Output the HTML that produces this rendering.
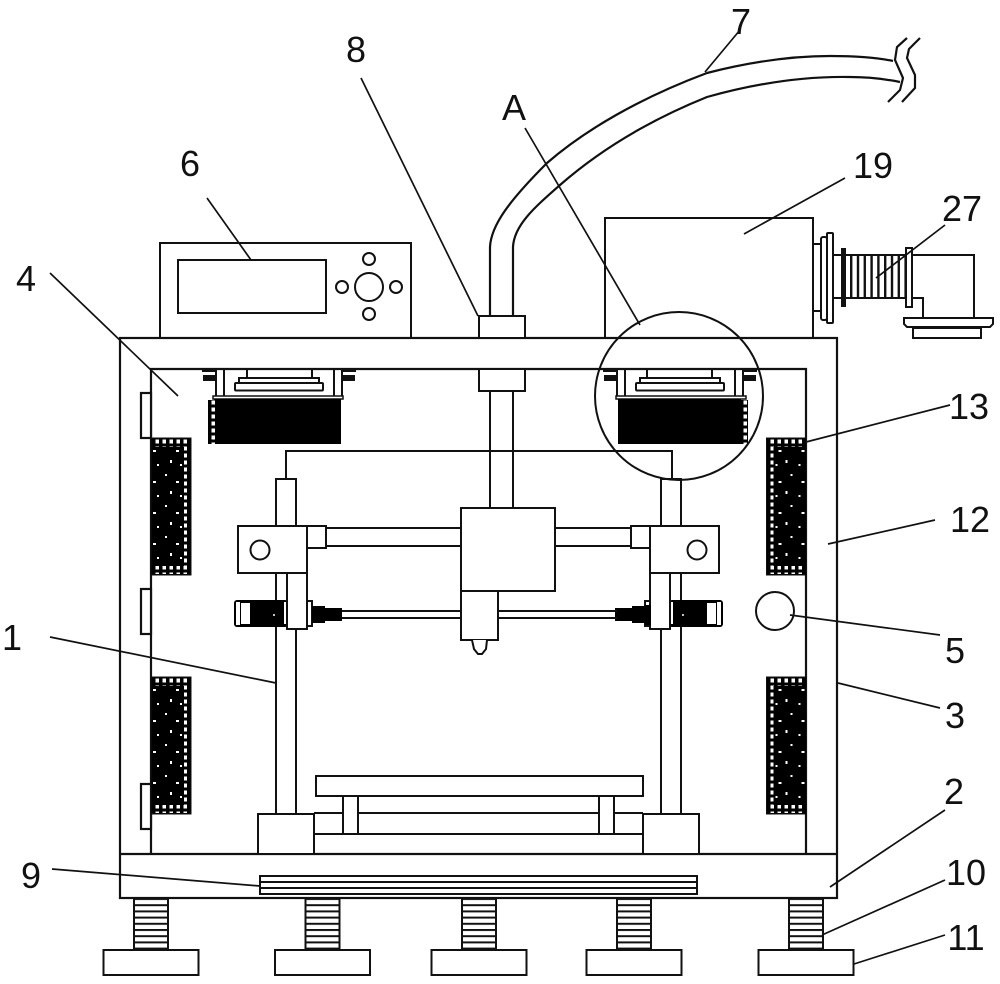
<!DOCTYPE html>
<html><head><meta charset="utf-8"><style>
html,body{margin:0;padding:0;background:#fff}
svg{display:block}
text{font-family:"Liberation Sans",sans-serif;font-size:36px;fill:#111}
</style></head><body>
<svg width="1000" height="984" viewBox="0 0 1000 984" xmlns="http://www.w3.org/2000/svg">
<defs>
<pattern id="sp" width="23" height="31" patternUnits="userSpaceOnUse">
<rect width="23" height="31" fill="#000"/>
<rect x="4" y="5" width="2" height="2" fill="#fff"/><rect x="15" y="12" width="3" height="2" fill="#fff"/><rect x="9" y="22" width="2" height="3" fill="#fff"/><rect x="19" y="26" width="2" height="2" fill="#fff"/>
</pattern>
<pattern id="cell" width="7" height="7" patternUnits="userSpaceOnUse">
<rect width="7" height="7" fill="#000"/><rect x="1.5" y="1.5" width="3.5" height="4" fill="#fff"/>
</pattern>
<pattern id="d1" width="13.5" height="40" patternUnits="userSpaceOnUse"><rect x="4" y="0" width="4" height="4" fill="#fff"/></pattern>
<pattern id="th" width="8" height="6.2" patternUnits="userSpaceOnUse"><rect width="8" height="2" fill="#111"/></pattern>
<pattern id="coil" width="6.8" height="8" patternUnits="userSpaceOnUse"><rect width="2.4" height="8" fill="#111"/></pattern>
<g id="panelL">
<rect x="151" y="0" width="40" height="137" fill="#000" stroke="#111" stroke-width="1"/>
<rect x="152" y="9" width="32" height="119" fill="url(#sp)"/>
<rect x="152" y="1" width="38" height="8" fill="url(#cell)"/>
<rect x="152" y="128" width="38" height="8" fill="url(#cell)"/>
<rect x="184" y="9" width="6" height="119" fill="url(#cell)"/>
</g>
<g id="foot">
<rect x="-17" y="0" width="34" height="52" fill="url(#th)"/>
<path d="M-17 0V52M17 0V52" fill="none" stroke="#111" stroke-width="2"/>
<rect x="-47.5" y="52" width="95" height="25" fill="#fff" stroke="#111" stroke-width="2"/>
</g>
<g id="carriage">
<rect x="276" y="479" width="20" height="335" fill="#fff" stroke="#111" stroke-width="2"/>
<path d="M326 528H461M326 546H461M342 611H461M342 618H461" stroke="#111" stroke-width="2" fill="none"/>
<rect x="307" y="526" width="19" height="22" fill="#fff" stroke="#111" stroke-width="2"/>
<rect x="238" y="526" width="69" height="47" fill="#fff" stroke="#111" stroke-width="2"/>
<circle cx="260" cy="550" r="9.5" fill="#fff" stroke="#111" stroke-width="2"/>
<rect x="234" y="600" width="54" height="27" rx="3" fill="#000"/>
<rect x="236" y="602" width="4" height="23" fill="#fff"/>
<rect x="241" y="603" width="9" height="21" fill="#fff"/>
<rect x="284" y="602" width="3" height="22" fill="#fff"/>
<circle cx="274" cy="615" r="1" fill="#fff"/>
<rect x="287" y="573" width="20" height="56" fill="#fff" stroke="#111" stroke-width="2"/>
<rect x="307" y="601" width="5" height="25" fill="#fff" stroke="#111" stroke-width="2"/>
<path d="M312 606H325V608H342V621H325V623H312Z" fill="#000"/>
</g>
<g id="mount">
<path d="M617 370V398M625 370V398M735 370V398M743 370V398M647 370V378M712 370V378" stroke="#111" stroke-width="2" fill="none"/>
<rect x="640" y="378" width="80" height="5" fill="#fff" stroke="#111" stroke-width="2"/>
<rect x="636" y="383" width="88" height="7.5" rx="1" fill="#fff" stroke="#111" stroke-width="2"/>
<path d="M603 371H616M744 371H757" stroke="#111" stroke-width="2"/>
<rect x="604" y="375" width="12" height="6" fill="#111"/>
<rect x="744" y="375" width="12" height="6" fill="#111"/>
<rect x="616" y="396" width="130" height="3" fill="#fff" stroke="#111" stroke-width="1.5"/>
<rect x="618" y="399" width="123" height="45" fill="#000"/>
<rect x="624" y="427" width="112" height="4" fill="url(#d1)"/>
<rect x="628" y="436" width="108" height="4" fill="url(#d1)"/>
<rect x="740" y="400" width="8" height="44" fill="url(#cell)"/>
</g>
</defs>
<rect width="1000" height="984" fill="#fff"/>

<!-- hose -->
<g fill="none" stroke="#111" stroke-width="2.2">
<path d="M490 316V247C491 225 510 200 547 163C585 130 640 98 707 73C750 62 790 56 830 56C850 56 875 57 893 61"/>
<path d="M513 316V247C514 225 535 207 560 185C600 150 650 120 707 97C750 85 800 76 850 77C870 77 885 79 900 82"/>
<path d="M907 38L897 47L895 60L903 78L900 90L888 102"/>
<path d="M920 38L909 49L907 58L915 75L915 88L902 102"/>
</g>

<!-- panel 6 -->
<g fill="#fff" stroke="#111" stroke-width="2">
<rect x="160" y="243" width="251" height="95"/>
<rect x="178" y="260" width="148" height="53"/>
<circle cx="369" cy="287" r="14"/>
<circle cx="342" cy="287" r="6"/><circle cx="396" cy="287" r="6"/><circle cx="369" cy="259" r="6"/><circle cx="369" cy="314" r="6"/>
<rect x="605" y="218" width="208" height="120"/>
</g>

<!-- right side unit -->
<g fill="#fff" stroke="#111" stroke-width="2">
<path d="M813 244H822M813 311H822"/>
<rect x="821" y="237" width="6" height="83" rx="2"/>
<rect x="827" y="233" width="6" height="90" rx="1"/>
<path d="M833 255H906M833 298H906"/>
<rect x="845" y="255" width="61" height="43" fill="url(#coil)" stroke="none"/>
<rect x="841" y="248" width="5" height="59" fill="#111" stroke="none"/>
<rect x="906" y="248" width="6" height="59"/>
<path d="M912 255H974V318M912 298H923V318" fill="none"/>
<path d="M904 318H993V324L990 327H907L904 324Z"/>
<rect x="913" y="328" width="68" height="10"/>
</g>

<!-- frame -->
<g fill="none" stroke="#111" stroke-width="2.2">
<rect x="120" y="338" width="717" height="560" fill="#fff"/>
<path d="M151 854V369H806V854M120 854H837"/>
<rect x="141" y="393" width="10" height="45" fill="#fff"/>
<rect x="141" y="589" width="10" height="45" fill="#fff"/>
<rect x="141" y="784" width="10" height="45" fill="#fff"/>
</g>

<!-- fitting -->
<g fill="#fff" stroke="#111" stroke-width="2">
<rect x="479" y="316" width="46" height="22"/>
<rect x="479" y="369" width="46" height="22"/>
<rect x="490" y="391" width="23" height="117"/>
</g>

<!-- panels -->
<use href="#panelL" y="438"/>
<use href="#panelL" y="677"/>
<use href="#panelL" transform="translate(957.5,438) scale(-1,1)"/>
<use href="#panelL" transform="translate(957.5,677) scale(-1,1)"/>

<!-- mounts -->
<use href="#mount"/>
<g transform="translate(959,0) scale(-1,1)"><use href="#mount"/></g>
<rect x="214" y="399" width="6" height="45" fill="#000"/>
<rect x="208" y="400" width="7" height="44" fill="url(#cell)"/>

<!-- gantry -->
<path d="M286 479V451H672V479" fill="none" stroke="#111" stroke-width="2"/>
<use href="#carriage"/>
<g transform="translate(957,0) scale(-1,1)"><use href="#carriage"/></g>
<rect x="645" y="605" width="6" height="20" fill="#000"/>
<g fill="#fff" stroke="#111" stroke-width="2">
<rect x="461" y="508" width="94" height="83"/>
<rect x="461" y="591" width="37" height="49"/>
<path d="M472 640L474 649L478 654H482L486 649L487 640"/>
</g>
<path d="M498 611H617M498 618H617" stroke="#111" stroke-width="2" fill="none"/>

<!-- bed -->
<g fill="#fff" stroke="#111" stroke-width="2">
<path d="M314 813H643M314 834H643" fill="none"/>
<rect x="343" y="796" width="15" height="38"/>
<rect x="599" y="796" width="15" height="38"/>
<rect x="316" y="776" width="327" height="20"/>
<rect x="258" y="814" width="56" height="40"/>
<rect x="643" y="814" width="56" height="40"/>
</g>

<!-- plate 9 -->
<g fill="#fff" stroke="#111" stroke-width="2">
<rect x="260" y="876" width="437" height="18"/>
<path d="M260 882H697M260 888H697" fill="none"/>
</g>

<!-- feet -->
<use href="#foot" transform="translate(151,898)"/>
<use href="#foot" transform="translate(322.5,898)"/>
<use href="#foot" transform="translate(479,898)"/>
<use href="#foot" transform="translate(634,898)"/>
<use href="#foot" transform="translate(806,898)"/>

<!-- detail circle -->
<circle cx="679" cy="396" r="84" fill="none" stroke="#111" stroke-width="2"/>
<circle cx="775" cy="611" r="19" fill="#fff" stroke="#111" stroke-width="2"/>

<!-- leaders -->
<g stroke="#111" stroke-width="1.7" fill="none">
<path d="M740 30L705 72M361 78L478 316M525 128L640 325M207 198L251 260M845 178L744 234M945 225L876 278M50 273L178 396M950 405L806 442M935 520L828 544M940 635L790 615M940 708L838 683M50 637L276 683M945 810L830 887M52 869L260 886M945 880L822 935M945 935L854 964"/>
</g>

<!-- labels -->
<g text-anchor="middle">
<text x="741" y="34">7</text>
<text x="356" y="62">8</text>
<text x="514" y="120">A</text>
<text x="190" y="176">6</text>
<text x="873" y="178">19</text>
<text x="962" y="221">27</text>
<text x="26" y="291">4</text>
<text x="969" y="419">13</text>
<text x="970" y="532">12</text>
<text x="12" y="650">1</text>
<text x="955" y="663">5</text>
<text x="955" y="728">3</text>
<text x="954" y="804">2</text>
<text x="31" y="888">9</text>
<text x="966" y="885">10</text>
<text x="966" y="950">11</text>
</g>
</svg>
</body></html>
